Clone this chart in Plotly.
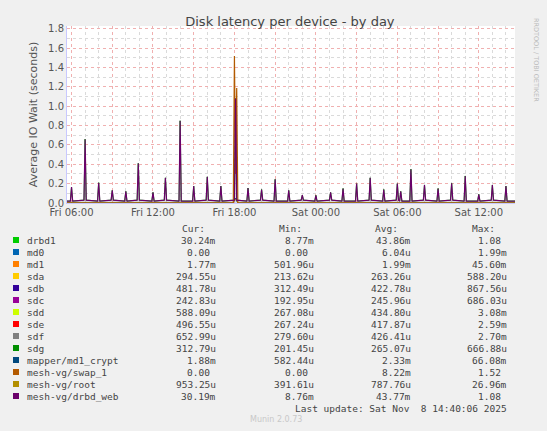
import plotly.graph_objects as go
from datetime import datetime, timedelta

# hourly latency spikes (drbd1 / mesh-vg/drbd_web)
spike_times = ["2025-11-07 06:00", "2025-11-07 07:00", "2025-11-07 08:00", "2025-11-07 09:00",
               "2025-11-07 10:00", "2025-11-07 10:55", "2025-11-07 12:00", "2025-11-07 12:55",
               "2025-11-07 14:00", "2025-11-07 15:00", "2025-11-07 16:00", "2025-11-07 17:00",
               "2025-11-07 18:05", "2025-11-07 19:00", "2025-11-07 20:00", "2025-11-07 21:00",
               "2025-11-07 22:00", "2025-11-07 23:00", "2025-11-08 00:00", "2025-11-08 01:05",
               "2025-11-08 02:00", "2025-11-08 03:00", "2025-11-08 04:00", "2025-11-08 05:00",
               "2025-11-08 06:00", "2025-11-08 06:15", "2025-11-08 07:00", "2025-11-08 08:00",
               "2025-11-08 09:00", "2025-11-08 10:00", "2025-11-08 11:00", "2025-11-08 12:00",
               "2025-11-08 13:00", "2025-11-08 14:00"]
spike_vals = [0.165, 0.66, 0.21, 0.13, 0.12, 0.41, 0.11, 0.26, 0.85, 0.175, 0.27, 0.175,
              1.08, 0.155, 0.14, 0.245, 0.13, 0.08, 0.08, 0.11, 0.15, 0.20, 0.26, 0.14,
              0.20, 0.12, 0.35, 0.185, 0.15, 0.205, 0.28, 0.09, 0.185, 0.175]
base_vals = [0.02, 0.03, 0.02, 0.03, 0.02, 0.03, 0.02, 0.03, 0.02, 0.02, 0.03, 0.02,
             0.03, 0.02, 0.03, 0.02, 0.02, 0.03, 0.02, 0.03, 0.02, 0.02, 0.03, 0.02,
             0.03, 0.02, 0.02, 0.03, 0.02, 0.03, 0.02, 0.02, 0.03, 0.02]

swap_times = ["2025-11-07 05:40", "2025-11-07 17:55", "2025-11-07 18:00", "2025-11-07 18:05",
              "2025-11-07 18:10", "2025-11-07 18:15", "2025-11-08 14:40"]
swap_vals = [0, 0, 1.52, 0.30, 1.19, 0, 0]
root_vals = [0.001, 0.001, 0.05, 0.03, 0.04, 0.001, 0.001]
mapper_vals = [0.002, 0.002, 0.03, 0.05, 0.02, 0.002, 0.002]

legend_names = ["drbd1", "md0", "md1", "sda", "sdb", "sdc", "sdd", "sde", "sdf", "sdg",
                "mapper/md1_crypt", "mesh-vg/swap_1", "mesh-vg/root", "mesh-vg/drbd_web"]
legend_colors = ["#00CC00", "#0066B3", "#FF8000", "#FFCC00", "#330099", "#990099", "#CCFF00",
                 "#FF0000", "#808080", "#008F00", "#00487D", "#B35A00", "#B38F00", "#6B006B"]
cur = ["30.24m", "0.00", "1.77m", "294.55u", "481.78u", "242.83u", "588.09u", "496.55u",
       "652.99u", "312.79u", "1.88m", "0.00", "953.25u", "30.19m"]
mins = ["8.77m", "0.00", "501.96u", "213.62u", "312.49u", "192.95u", "267.08u", "267.24u",
        "279.60u", "201.45u", "582.44u", "0.00", "391.61u", "8.76m"]
avgs = ["43.86m", "6.04u", "1.99m", "263.26u", "422.78u", "245.96u", "434.80u", "417.87u",
        "426.41u", "265.07u", "2.33m", "8.22m", "787.76u", "43.77m"]
maxs = ["1.08", "1.99m", "45.60m", "588.20u", "867.56u", "686.03u", "3.08m", "2.59m",
        "2.70m", "666.88u", "66.08m", "1.52", "26.96m", "1.08"]

W, H = 547, 431
L, R, T, B = 67, 515, 26, 203

fmt = "%Y-%m-%d %H:%M"
xs, ys = ["2025-11-07 05:40"], [0.02]
for t, v, b in zip(spike_times, spike_vals, base_vals):
    d = datetime.strptime(t, fmt)
    xs += [d - timedelta(minutes=5), d, d + timedelta(minutes=5)]
    ys += [b, v, b]
xs.append("2025-11-08 14:40")
ys.append(0.02)

fig = go.Figure()
fig.add_trace(go.Scatter(x=xs, y=ys, mode="lines", fill="tozeroy", fillcolor="rgba(150,150,150,0.35)",
                         line=dict(color="#00CC00", width=1)))
fig.add_trace(go.Scatter(x=swap_times, y=mapper_vals, mode="lines", line=dict(color="#00487D", width=1)))
fig.add_trace(go.Scatter(x=swap_times, y=root_vals, mode="lines", line=dict(color="#B38F00", width=1)))
fig.add_trace(go.Scatter(x=swap_times, y=swap_vals, mode="lines", line=dict(color="#B35A00", width=1.2)))
fig.add_trace(go.Scatter(x=xs, y=ys, mode="lines", line=dict(color="#6B006B", width=1.2)))

ticks = ["2025-11-07 %02d:00" % h for h in (6, 9, 12, 15, 18, 21)] + \
        ["2025-11-08 %02d:00" % h for h in (0, 3, 6, 9, 12)]
labels = ["Fri 06:00", "", "Fri 12:00", "", "Fri 18:00", "", "Sat 00:00", "", "Sat 06:00", "", "Sat 12:00"]

fig.update_layout(
    width=W, height=H, showlegend=False,
    paper_bgcolor="#F0F0F0", plot_bgcolor="white",
    margin=dict(l=L, r=W - R, t=T, b=H - B),
    font=dict(family="DejaVu Sans", size=10, color="#555"),
    title=dict(text="Disk latency per device - by day", x=0.53, y=0.96, xanchor="center",
               font=dict(size=13, color="#444")),
    xaxis=dict(type="date", range=["2025-11-07 05:40", "2025-11-08 14:40"],
               tickmode="array", tickvals=ticks, ticktext=labels, ticks="",
               showgrid=True, gridcolor="#F0B0B0", griddash="dot", gridwidth=1,
               minor=dict(dtick=3600000, tick0="2025-11-07 06:00", showgrid=True,
                          gridcolor="#DADADA", griddash="dot"),
               showline=True, linecolor="#C8C8FF", zeroline=False, fixedrange=True),
    yaxis=dict(range=[0, 1.83], dtick=0.2, tickformat=".1f", ticks="",
               showgrid=True, gridcolor="#F0B0B0", griddash="dot",
               minor=dict(dtick=0.1, showgrid=True, gridcolor="#DADADA", griddash="dot"),
               showline=True, linecolor="#C8C8FF", zeroline=False,
               title=dict(text="Average IO Wait (seconds)", font=dict(size=11, color="#555"),
                          standoff=8)),
)

# paper coordinates are relative to the plot area
def px(x):
    return (x - L) / (R - L)

def py(y):
    return (B - y) / (B - T)

mono = dict(family="DejaVu Sans Mono", size=9.5, color="#444")
ann = [
    dict(x=px(536), y=py(60), text="RRDTOOL / TOBI OETIKER", textangle=90,
         font=dict(size=6.5, color="#BBB"), xanchor="center", yanchor="middle"),
    dict(x=px(276), y=py(420), text="Munin 2.0.73", font=dict(size=8, color="#C8C8C8"),
         xanchor="center", yanchor="middle"),
    dict(x=px(509), y=py(408), text="Last update: Sat Nov  8 14:40:06 2025", font=mono,
         xanchor="right", yanchor="middle"),
]
for text, xr in (("Cur:", 207), ("Min:", 304), ("Avg:", 400), ("Max:", 497)):
    ann.append(dict(x=px(xr), y=py(228), text=text, font=mono, xanchor="right", yanchor="middle"))

shapes = []
for i, name in enumerate(legend_names):
    yy = 240 + 12 * i
    shapes.append(dict(type="rect", xref="paper", yref="paper", x0=px(13), x1=px(19),
                       y0=py(yy + 3), y1=py(yy - 3), fillcolor=legend_colors[i], line_width=0))
    ann.append(dict(x=px(25), y=py(yy), text=name, font=mono, xanchor="left", yanchor="middle"))
    for col, xr in ((cur, 218), (mins, 316), (avgs, 413), (maxs, 509)):
        v = col[i]
        off = 0 if v[-1] in "mu" else 5.7
        ann.append(dict(x=px(xr - off), y=py(yy), text=v, font=mono, xanchor="right", yanchor="middle"))

for a in ann:
    a.update(xref="paper", yref="paper", showarrow=False)
fig.update_layout(annotations=ann, shapes=shapes)

fig.write_html("out.html", config={"displayModeBar": False},
               post_script="document.body.style.margin='0';")
